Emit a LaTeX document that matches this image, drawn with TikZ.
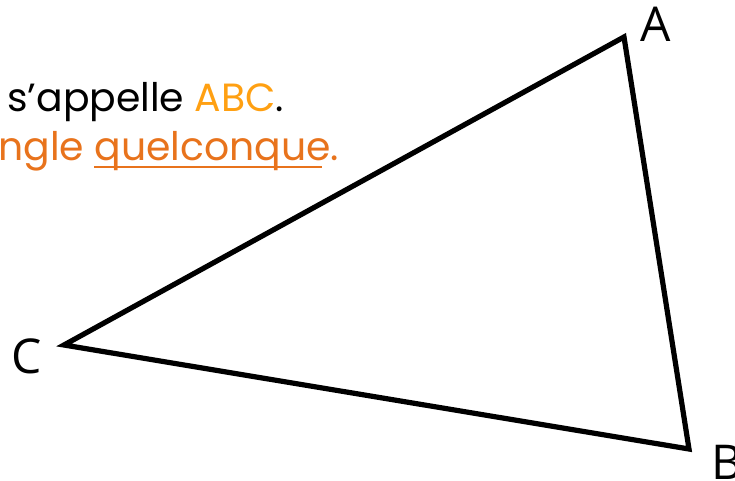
\documentclass[tikz,border=0pt]{standalone}
\usepackage{fontspec}
\setmainfont{Poppins}
\newfontfamily\labelfont{Open Sans}
\usetikzlibrary{positioning}

\definecolor{abcorange}{HTML}{FFA012}
\definecolor{darkorange}{HTML}{E8731C}

\begin{document}
\begin{tikzpicture}[
      x=0.75pt, y=-0.75pt,
      side/.style={line width=3.9pt, line join=miter},
      vertex/.style={font=\labelfont\fontsize{36}{40}\selectfont, inner sep=0pt},
      phrase/.style={font=\fontsize{29.5}{34}\selectfont, inner sep=0pt, anchor=base west}
  ]
    \useasboundingbox (0,0) rectangle (735,481);

    % sommets
    \coordinate (a) at (624,37);
    \coordinate (b) at (689,449);
    \coordinate (c) at (64,345);

    \draw[side] (a) -- (b) -- (c) -- cycle;

    \node[vertex] (la) at (656,24) {A};
    \node[vertex] (lb) at (727,462) {B};
    \node[vertex] (lc) at (27,356) {C};

    % texte
    \node[phrase] (l1) at (7,112) {s’appelle \textcolor{abcorange}{ABC}.};
    \node[phrase, text=darkorange] (l2) at (-2,161) {ngle \strut quelconque\strut.};
    \draw[darkorange, line width=1.3pt] (94,167) -- (322,167);
  \end{tikzpicture}
\end{document}
